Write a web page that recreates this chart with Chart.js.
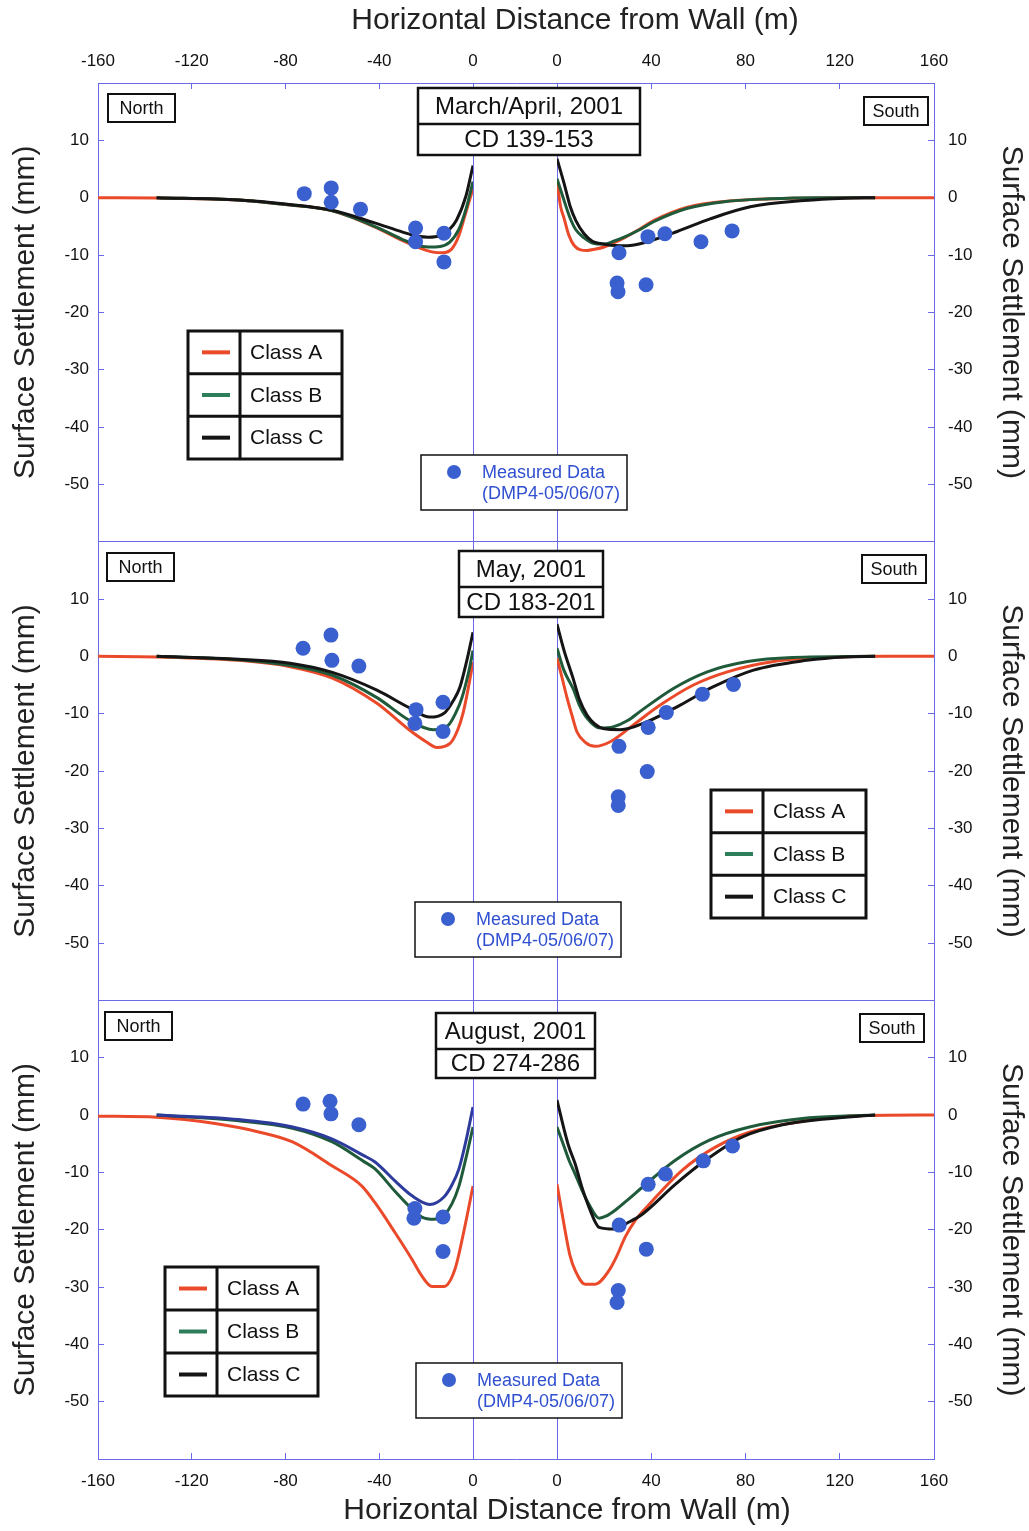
<!DOCTYPE html>
<html>
<head>
<meta charset="utf-8">
<script src="https://cdn.jsdelivr.net/npm/chart.js@4.4.1/dist/chart.umd.min.js"></script>
<style>
  html, body { margin: 0; padding: 0; background: #fff; }
  #wrap { width: 1029px; height: 1531px; position: relative; }
</style>
</head>
<body>
<div id="wrap"><canvas id="myChart"></canvas></div>
<script>
// tick labels
const xTicksNorth = [-160, -120, -80, -40, 0];
const xTicksSouth = [0, 40, 80, 120, 160];
const yTickLabels = [10, 0, -10, -20, -30, -40, -50];

const panelDates = ['March/April, 2001', 'May, 2001', 'August, 2001'];
const panelCDs = ['CD 139-153', 'CD 183-201', 'CD 274-286'];
const classNames = ['Class A', 'Class B', 'Class C'];
const measuredLabel = ['Measured Data', '(DMP4-05/06/07)'];

// March/April 2001  [distance m, settlement mm]
const marNorthA = [[-160,0],[-135,-0.05],[-100,-0.4],[-80,-1.2],[-60,-2.3],[-42,-5.1],[-30,-7.5],[-22,-8.9],[-17,-9.5],[-13,-9.6],[-9,-8.9],[-6,-6.6],[-3,-2.5],[0,1.6]];
const marNorthB = [[-135,0],[-100,-0.4],[-80,-1.2],[-60,-2.3],[-42,-5.0],[-30,-7.3],[-24,-8.3],[-19,-8.6],[-14,-8.5],[-10,-7.8],[-6,-5.5],[-3,-2.0],[0,2.8]];
const marNorthC = [[-135,0],[-100,-0.4],[-80,-1.1],[-60,-2.2],[-42,-4.4],[-30,-6.0],[-24,-6.7],[-19,-6.9],[-14,-6.6],[-10,-5.5],[-7,-3.9],[-3,0.3],[0,5.6]];
const marSouthA = [[0,2.8],[1.5,-1.5],[3,-3.6],[5,-6.5],[7.2,-8.3],[10,-9.1],[12.8,-9.2],[16,-9.0],[20,-8.6],[24,-7.9],[28.5,-7.0],[35,-5.5],[41,-4.0],[55,-1.7],[76,-0.5],[100,-0.1],[130,0],[160,0]];
const marSouthB = [[0,3.3],[3,-0.5],[5.5,-3.5],[8,-5.6],[11.5,-7.0],[15,-7.9],[20,-8.1],[24,-7.6],[28.5,-6.9],[35,-5.6],[41,-4.2],[55,-1.9],[71,-0.7],[90,-0.2],[110,0],[135,0]];
const marSouthC = [[0,6.8],[3,2.5],[5.5,-1.4],[8,-4.0],[11.5,-6.3],[15,-7.6],[18.3,-8.0],[26.8,-8.4],[32,-8.3],[38.3,-7.7],[51,-5.9],[65,-3.7],[82,-1.6],[105,-0.5],[122,-0.1],[135,0]];
const marMeasuredNorth = [[-72,0.7],[-60.5,1.7],[-60.5,-0.8],[-48,-2.0],[-24.5,-5.3],[-24.5,-7.7],[-12.4,-6.2],[-12.4,-11.2]];
const marMeasuredSouth = [[26.3,-9.6],[25.5,-14.9],[25.9,-16.4],[37.8,-15.2],[38.6,-6.8],[45.8,-6.3],[61.1,-7.7],[74.3,-5.8]];

// May 2001
const mayNorthA = [[-160,0],[-135,-0.1],[-100,-0.7],[-78,-1.8],[-60,-3.8],[-41,-8.2],[-27,-12.9],[-20,-14.9],[-15.4,-15.9],[-9.8,-15.2],[-6.5,-12.8],[-4.3,-10.0],[-2,-5.5],[0,-1.0]];
const mayNorthB = [[-135,0],[-100,-0.6],[-78,-1.6],[-60,-3.3],[-41,-7.2],[-27,-11.2],[-17,-12.8],[-10.7,-12.1],[-7.5,-10.0],[-4.7,-7.2],[-2,-3.0],[0,1.0]];
const mayNorthC = [[-135,0],[-100,-0.5],[-78,-1.2],[-60,-2.8],[-41,-5.9],[-27,-9.0],[-18.4,-10.6],[-12,-9.8],[-8.5,-7.8],[-5.6,-5.4],[-2.5,-0.5],[0,4.2]];
const maySouthA = [[0,-0.3],[2,-3.5],[4.3,-7.3],[6.5,-10.5],[8.5,-13.2],[12,-15.0],[16.2,-15.7],[22.6,-14.9],[32.3,-12.0],[43.8,-8.5],[57.9,-5.0],[72.3,-2.7],[92,-0.9],[115,-0.2],[140,0],[160,0]];
const maySouthB = [[0,1.4],[3,-2.5],[6.8,-5.6],[9.5,-8.5],[12.8,-10.8],[18.3,-12.5],[23.8,-12.3],[30,-11.2],[35.3,-9.6],[49.4,-5.6],[63.8,-2.7],[80.9,-0.9],[100,-0.2],[135,0]];
const maySouthC = [[0,5.6],[3,1.0],[6.8,-3.8],[9.5,-7.5],[12.8,-10.3],[16,-11.8],[19.6,-12.6],[26.8,-12.8],[38.3,-11.4],[52.3,-8.5],[66.4,-5.3],[83.4,-2.4],[106,-0.7],[122,-0.1],[135,0]];
const mayMeasuredNorth = [[-72.5,1.4],[-60.6,3.7],[-60.2,-0.7],[-48.7,-1.7],[-24.3,-9.3],[-24.8,-11.7],[-12.8,-8.0],[-12.8,-13.1]];
const mayMeasuredSouth = [[26.3,-15.7],[26,-24.5],[26,-26.0],[38.3,-20.1],[38.7,-12.4],[46.4,-9.8],[61.7,-6.6],[74.9,-4.9]];

// August 2001
const augNorthA = [[-160,-0.2],[-135,-0.4],[-110,-1.5],[-91,-3.0],[-77,-4.7],[-60,-8.9],[-47.4,-12.4],[-41.8,-15.3],[-33.3,-20.5],[-26,-25.2],[-21.8,-28.1],[-17.5,-29.9],[-12.4,-29.9],[-7.7,-26.9],[-4,-20.5],[0,-12.4]];
const augNorthB = [[-135,0],[-100,-1.0],[-77,-2.3],[-60,-4.7],[-47,-8.0],[-41.8,-9.4],[-33.3,-13.3],[-26,-16.4],[-21.8,-17.8],[-16.7,-18.2],[-12,-17.3],[-9,-15.5],[-6,-12.4],[-3,-7.5],[0,-2.1]];
const augNorthC = [[-135,0],[-100,-0.8],[-77,-2.1],[-60,-4.2],[-47,-7.0],[-41.8,-8.2],[-33.3,-11.5],[-26,-14.1],[-18.4,-15.6],[-12.4,-14.3],[-9,-12.2],[-6,-9.4],[-3,-4.5],[0,1.4]];
const augSouthA = [[0,-12.1],[3.4,-20.1],[5.5,-24.5],[7.7,-27.1],[11.9,-29.5],[16.2,-29.5],[22.1,-27.1],[25.5,-24.5],[28.9,-21.3],[33,-18.5],[39.1,-15.6],[53.2,-9.6],[67.2,-5.6],[81.7,-3.0],[107,-0.9],[130,-0.1],[160,0]];
const augSouthB = [[0,-2.1],[3,-5.5],[5,-7.8],[7.7,-10.3],[10.5,-13.0],[13.6,-15.6],[17.9,-18.0],[21,-17.6],[24.7,-16.6],[30,-14.8],[36.2,-12.6],[50.2,-7.9],[64.7,-4.4],[81.7,-2.1],[107,-0.5],[135,0]];
const augSouthC = [[0,2.6],[3,-2.5],[5,-5.5],[7.7,-8.5],[10.5,-12.5],[13.6,-16.1],[17.9,-19.6],[24.3,-19.9],[30,-18.8],[36.2,-17.3],[50.2,-12.1],[63,-7.9],[78.7,-3.8],[95.7,-1.7],[114,-0.7],[135,0]];
const augMeasuredNorth = [[-72.5,1.9],[-61,2.4],[-60.6,0.2],[-48.7,-1.7],[-24.8,-16.3],[-25.2,-18.0],[-12.8,-17.8],[-12.8,-23.8]];
const augMeasuredSouth = [[26.4,-19.2],[37.9,-23.4],[26,-30.6],[25.5,-32.7],[38.7,-12.1],[46,-10.3],[62.1,-8.0],[74.5,-5.4]];

const panels = [
  { north: [marNorthA, marNorthB, marNorthC], south: [marSouthA, marSouthB, marSouthC], dotsN: marMeasuredNorth, dotsS: marMeasuredSouth },
  { north: [mayNorthA, mayNorthB, mayNorthC], south: [maySouthA, maySouthB, maySouthC], dotsN: mayMeasuredNorth, dotsS: mayMeasuredSouth },
  { north: [augNorthA, augNorthB, augNorthC], south: [augSouthA, augSouthB, augSouthC], dotsN: augMeasuredNorth, dotsS: augMeasuredSouth }
];

const FONT = 'Arial, "Liberation Sans", Helvetica, sans-serif';
const axisBlue = '#6a6ae6';
const classColors = ['#ea4a2a', '#1f5a3a', '#151515'];
const dotBlue = '#3a5fcf';
const textBlue = '#3050d0';

// annotation boxes, page pixels
const noteBoxes = [
  { north: [108, 94], south: [864, 97], title: [418, 88, 222, 67], legend: [188, 331, 154, 128], measured: [421, 455, 206, 55] },
  { north: [107, 553], south: [862, 555], title: [459, 551, 144, 66], legend: [711, 790, 155, 128], measured: [415, 902, 206, 55] },
  { north: [105, 1012], south: [860, 1014], title: [436, 1013, 159, 65], legend: [165, 1267, 153, 129], measured: [416, 1363, 206, 55] }
];

const toXY = arr => arr.map(([x, y]) => ({ x: x, y: y }));

const datasets = [];
panels.forEach((p, i) => {
  const yId = 'y' + (i + 1);
  [['xL', p.north], ['xR', p.south]].forEach(([xId, lines]) => {
    lines.forEach((pts, k) => {
      let color = classColors[k];
      // the August north-side Class C curve is printed in dark blue
      if (i === 2 && xId === 'xL' && k === 2) color = '#2c3b9c';
      datasets.push({
        label: classNames[k],
        data: toXY(pts),
        xAxisID: xId, yAxisID: yId,
        borderColor: color, borderWidth: 3,
        pointRadius: 0, pointHoverRadius: 0,
        cubicInterpolationMode: 'monotone',
        fill: false,
        order: 3 - k
      });
    });
  });
  [['xL', p.dotsN], ['xR', p.dotsS]].forEach(([xId, pts]) => {
    datasets.push({
      label: measuredLabel[0],
      data: toXY(pts),
      xAxisID: xId, yAxisID: yId,
      showLine: false,
      pointRadius: 7.5, pointHoverRadius: 7.5,
      pointBackgroundColor: dotBlue, pointBorderWidth: 0,
      order: 0
    });
  });
});

function yAxis(side, i) {
  const left = side === 'left';
  return {
    type: 'linear', position: side, stack: side,
    weight: left ? 3 - i : i + 1,
    min: -60, max: 20,
    afterBuildTicks: s => { s.ticks = [-60, ...yTickLabels.slice().reverse(), 20].map(v => ({ value: v })); },
    afterFit: s => { s.width = left ? 98 : 95; },
    ticks: {
      padding: left ? 15 : 20, color: '#111', font: { family: FONT, size: 17 },
      callback: v => yTickLabels.includes(v) ? String(v) : ''
    },
    grid: {
      drawOnChartArea: left, tickLength: -6, tickColor: axisBlue, lineWidth: 1,
      color: c => (c.tick && (c.tick.value === 20 || c.tick.value === -60)) ? axisBlue : 'rgba(0,0,0,0)'
    },
    border: { color: axisBlue, width: 1 },
    title: {
      display: true, text: 'Surface Settlement (mm)', color: '#222',
      font: { family: FONT, size: 30 }, padding: { top: left ? 8 : 0, bottom: 0 }
    }
  };
}

function xAxis(pos, part) {
  const top = pos === 'top';
  const order = { N: 1, G: 2, S: 3 }[part];
  const base = {
    type: 'linear', position: pos, stack: pos,
    weight: top ? 4 - order : order,
    stackWeight: { N: 375, G: 84, S: 377 }[part],
    afterFit: s => { s.height = top ? 83 : 72; }
  };
  if (part === 'G') {
    return Object.assign(base, {
      display: true, min: 0, max: 1,
      ticks: { display: false },
      grid: { drawOnChartArea: false, drawTicks: false, color: 'rgba(0,0,0,0)' },
      border: { display: false }
    });
  }
  const vals = part === 'N' ? xTicksNorth : xTicksSouth;
  return Object.assign(base, {
    min: vals[0], max: vals[vals.length - 1],
    afterBuildTicks: s => { s.ticks = vals.map(v => ({ value: v })); },
    ticks: { padding: top ? 17 : 18, autoSkip: false, maxRotation: 0, color: '#111', font: { family: FONT, size: 17 } },
    grid: { drawOnChartArea: false, tickLength: -6, tickColor: axisBlue, color: axisBlue, lineWidth: 1 },
    border: { color: axisBlue, width: 1 }
  });
}

function box(ctx, x, y, w, h, lw) {
  ctx.fillStyle = '#fff';
  ctx.fillRect(x, y, w, h);
  ctx.lineWidth = lw;
  ctx.strokeStyle = '#111';
  ctx.strokeRect(x, y, w, h);
}

// wall lines at distance 0 on both sides, placed by the x scales
const wallLines = {
  id: 'wallLines',
  beforeDatasetsDraw(chart) {
    const ctx = chart.ctx, area = chart.chartArea;
    ctx.save();
    ctx.strokeStyle = axisBlue;
    ctx.lineWidth = 1;
    ['xL', 'xR'].forEach(id => {
      const px = Math.round(chart.scales[id].getPixelForValue(0)) + 0.5;
      ctx.beginPath(); ctx.moveTo(px, area.top); ctx.lineTo(px, area.bottom); ctx.stroke();
    });
    ctx.restore();
  }
};

const notesPlugin = {
  id: 'panelNotes',
  afterDraw(chart) {
    const ctx = chart.ctx;
    ctx.save();
    ctx.fillStyle = '#222';
    ctx.textAlign = 'center';
    ctx.textBaseline = 'middle';
    ctx.font = '30px ' + FONT;
    ctx.fillText('Horizontal Distance from Wall (m)', 575, 21);
    ctx.fillText('Horizontal Distance from Wall (m)', 567, 1511);

    noteBoxes.forEach((b, i) => {
      // North / South
      ctx.font = '18px ' + FONT;
      box(ctx, b.north[0], b.north[1], 67, 28, 2);
      ctx.fillStyle = '#111'; ctx.textAlign = 'center';
      ctx.fillText('North', b.north[0] + 33.5, b.north[1] + 15);
      box(ctx, b.south[0], b.south[1], 64, 28, 2);
      ctx.fillStyle = '#111';
      ctx.fillText('South', b.south[0] + 32, b.south[1] + 15);

      // date / CD
      const [tx, ty, tw, th] = b.title;
      box(ctx, tx, ty, tw, th, 2.5);
      ctx.beginPath(); ctx.moveTo(tx, ty + 36); ctx.lineTo(tx + tw, ty + 36); ctx.stroke();
      ctx.fillStyle = '#111'; ctx.font = '24px ' + FONT;
      ctx.fillText(panelDates[i], tx + tw / 2, ty + 19);
      ctx.fillText(panelCDs[i], tx + tw / 2, ty + 36 + (th - 36) / 2 + 1);

      // class legend table
      const [lx, ly, lw, lh] = b.legend;
      box(ctx, lx, ly, lw, lh, 3);
      const rowH = lh / 3;
      ctx.beginPath();
      ctx.moveTo(lx + 52, ly); ctx.lineTo(lx + 52, ly + lh);
      ctx.moveTo(lx, ly + rowH); ctx.lineTo(lx + lw, ly + rowH);
      ctx.moveTo(lx, ly + 2 * rowH); ctx.lineTo(lx + lw, ly + 2 * rowH);
      ctx.stroke();
      const sample = ['#ea4a2a', '#2e7d5b', '#151515'];
      classNames.forEach((name, k) => {
        const cy = ly + rowH * (k + 0.5);
        ctx.strokeStyle = sample[k]; ctx.lineWidth = 4;
        ctx.beginPath(); ctx.moveTo(lx + 14, cy); ctx.lineTo(lx + 42, cy); ctx.stroke();
        ctx.fillStyle = '#111'; ctx.textAlign = 'left'; ctx.font = '21px ' + FONT;
        ctx.fillText(name, lx + 62, cy + 1);
      });

      // measured data box
      const [mx, my, mw, mh] = b.measured;
      box(ctx, mx, my, mw, mh, 1.5);
      ctx.fillStyle = dotBlue;
      ctx.beginPath(); ctx.arc(mx + 33, my + 17, 7, 0, Math.PI * 2); ctx.fill();
      ctx.fillStyle = textBlue; ctx.textAlign = 'left'; ctx.font = '18px ' + FONT;
      ctx.fillText(measuredLabel[0], mx + 61, my + 18);
      ctx.fillText(measuredLabel[1], mx + 61, my + 39);
      ctx.textAlign = 'center';
    });
    ctx.restore();
  }
};

const myChart = new Chart(document.getElementById('myChart'), {
  type: 'line',
  data: { datasets: datasets },
  options: {
    responsive: true,
    maintainAspectRatio: false,
    animation: false,
    layout: { padding: 0 },
    plugins: { legend: { display: false }, tooltip: { enabled: false }, title: { display: false } },
    scales: {
      y1: yAxis('left', 0), y2: yAxis('left', 1), y3: yAxis('left', 2),
      y1r: yAxis('right', 0), y2r: yAxis('right', 1), y3r: yAxis('right', 2),
      xLt: xAxis('top', 'N'), xGt: xAxis('top', 'G'), xRt: xAxis('top', 'S'),
      xL: xAxis('bottom', 'N'), xG: xAxis('bottom', 'G'), xR: xAxis('bottom', 'S')
    }
  },
  plugins: [wallLines, notesPlugin]
});
</script>
</body>
</html>
